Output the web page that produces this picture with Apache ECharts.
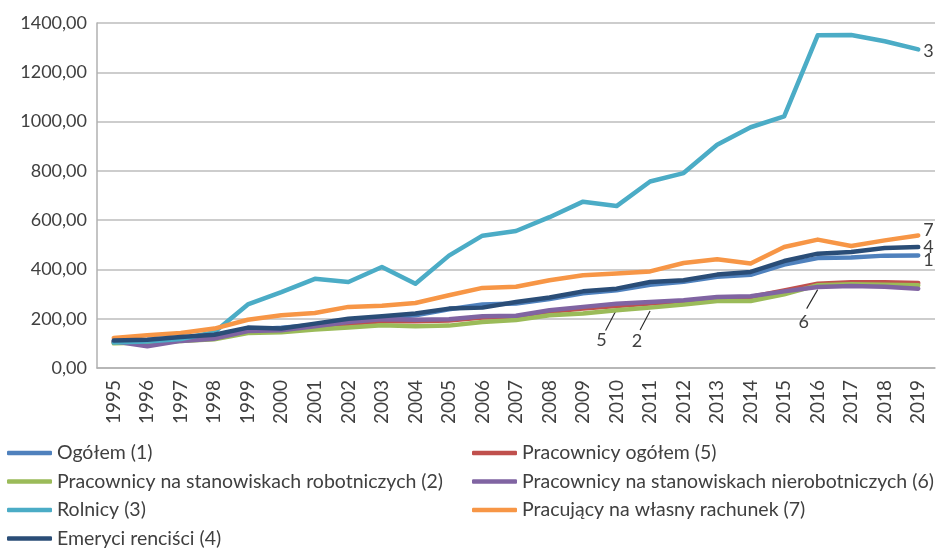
<!DOCTYPE html>
<html>
<head>
<meta charset="utf-8">
<script src="https://cdn.jsdelivr.net/npm/echarts@6/dist/echarts.min.js"></script>
<style>
  html, body { margin: 0; padding: 0; background: #fff; }
  #chart { width: 936px; height: 548px; }
</style>
</head>
<body>
<div id="chart"></div>
<script>
const years = ['1995','1996','1997','1998','1999','2000','2001','2002','2003','2004','2005','2006',
  '2007','2008','2009','2010','2011','2012','2013','2014','2015','2016','2017','2018','2019']

const ogolem = [105, 108, 118, 130, 155, 163, 175, 192, 204, 214, 238, 258, 262, 280, 303, 315, 338, 350, 370, 378, 420, 446, 448, 456, 457]
const pracownicy = [105, 100, 112, 122, 148, 150, 165, 180, 190, 190, 193, 205, 208, 228, 241, 252, 262, 270, 283, 288, 315, 342, 348, 348, 345]
const robotnicy = [100, 103, 110, 117, 142, 145, 156, 164, 173, 169, 172, 187, 195, 214, 221, 234, 245, 258, 272, 272, 299, 336, 340, 338, 336]
const nierobotnicy = [108, 88, 110, 119, 150, 153, 169, 187, 198, 196, 198, 210, 212, 234, 248, 261, 268, 275, 288, 291, 311, 329, 333, 330, 322]
const rolnicy = [103, 108, 118, 145, 258, 308, 362, 349, 410, 342, 456, 537, 556, 612, 675, 657, 757, 791, 906, 977, 1021, 1350, 1351, 1326, 1293]
const wlasnyRachunek = [122, 133, 142, 160, 196, 214, 223, 248, 253, 264, 295, 325, 330, 356, 376, 383, 392, 426, 441, 424, 491, 521, 495, 518, 538]
const emeryci = [112, 115, 126, 135, 164, 160, 180, 200, 210, 221, 241, 245, 268, 286, 311, 322, 349, 356, 379, 390, 434, 464, 471, 487, 491]

const names = {
  o: 'Ogółem (1)',
  p: 'Pracownicy ogółem (5)',
  r: 'Pracownicy na stanowiskach robotniczych (2)',
  n: 'Pracownicy na stanowiskach nierobotniczych (6)',
  ro: 'Rolnicy (3)',
  w: 'Pracujący na własny rachunek (7)',
  e: 'Emeryci renciści (4)'
}

const FONT = 'Lato'
const TXT = '#404040'

function line(name, data, color, endText, endDy) {
  const s = {
    name: name,
    type: 'line',
    data: data,
    symbol: 'none',
    lineStyle: { width: 4.5, color: color, cap: 'round', join: 'round' },
    itemStyle: { color: color },
    emphasis: { disabled: true }
  }
  if (endText) {
    s.endLabel = {
      show: true, formatter: endText, distance: 5, offset: [0, endDy],
      color: TXT, fontFamily: FONT, fontSize: 18
    }
  }
  return s
}

const chart = echarts.init(document.getElementById('chart'))

const legendBase = {
  orient: 'vertical',
  top: 443,
  height: 110,
  padding: 0,
  icon: 'roundRect',
  itemWidth: 45,
  itemHeight: 4.5,
  itemGap: 8.5,
  itemTextGap: 8,
  textStyle: { color: TXT, fontFamily: FONT, fontSize: 19.5, lineHeight: 20 }
}

chart.setOption({
  animation: false,
  textStyle: { fontFamily: FONT },
  grid: { left: 97, right: 1, top: 23, bottom: 180 },
  legend: [
    Object.assign({}, legendBase, { left: 7, data: [names.o, names.r, names.ro, names.e] }),
    Object.assign({}, legendBase, { left: 472, data: [names.p, names.n, names.w] })
  ],
  xAxis: {
    type: 'category',
    data: years,
    boundaryGap: true,
    axisLine: { lineStyle: { color: '#b0b0b0', width: 1.5 } },
    axisTick: { alignWithLabel: true, interval: 0, length: 6, lineStyle: { color: '#b0b0b0', width: 1.5 } },
    axisLabel: { rotate: 90, interval: 0, margin: 12, color: TXT, fontFamily: FONT, fontSize: 19 }
  },
  yAxis: {
    type: 'value',
    min: 0,
    max: 1400,
    interval: 200,
    axisLine: { show: true, lineStyle: { color: '#b0b0b0', width: 1.5 } },
    axisTick: { show: false },
    splitLine: { lineStyle: { color: '#bdbdbd', width: 1.5 } },
    axisLabel: {
      margin: 10, color: TXT, fontFamily: FONT, fontSize: 18,
      formatter: v => v.toFixed(2).replace('.', ',')
    }
  },
  series: [
    line(names.o, ogolem, '#4F81BD', '1', 5),
    line(names.p, pracownicy, '#C0504D'),
    line(names.r, robotnicy, '#9BBB59'),
    line(names.n, nierobotnicy, '#8064A2'),
    line(names.ro, rolnicy, '#4BACC6', '3', 2),
    line(names.w, wlasnyRachunek, '#F79646', '7', -5),
    line(names.e, emeryci, '#2A4D77', '4', 0)
  ]
})

// callouts with leader lines for the overlapping series
const callouts = [
  { text: '5', at: [14.57, 237], end: [-11, 21], label: [-15, 31] },
  { text: '2', at: [15.56, 231], end: [-10, 19], label: [-13, 30] },
  { text: '6', at: [20.9, 318], end: [-11, 19], label: [-14, 33] }
]
const graphics = []
callouts.forEach(c => {
  const p = chart.convertToPixel({ gridIndex: 0 }, c.at)
  graphics.push({
    type: 'line',
    shape: { x1: p[0], y1: p[1], x2: p[0] + c.end[0], y2: p[1] + c.end[1] },
    style: { stroke: '#262626', lineWidth: 1.1 }
  })
  graphics.push({
    type: 'text',
    x: p[0] + c.label[0], y: p[1] + c.label[1],
    style: { text: c.text, fill: TXT, font: '18px ' + FONT, align: 'center', verticalAlign: 'middle' }
  })
})
chart.setOption({ graphic: graphics })
</script>
</body>
</html>
